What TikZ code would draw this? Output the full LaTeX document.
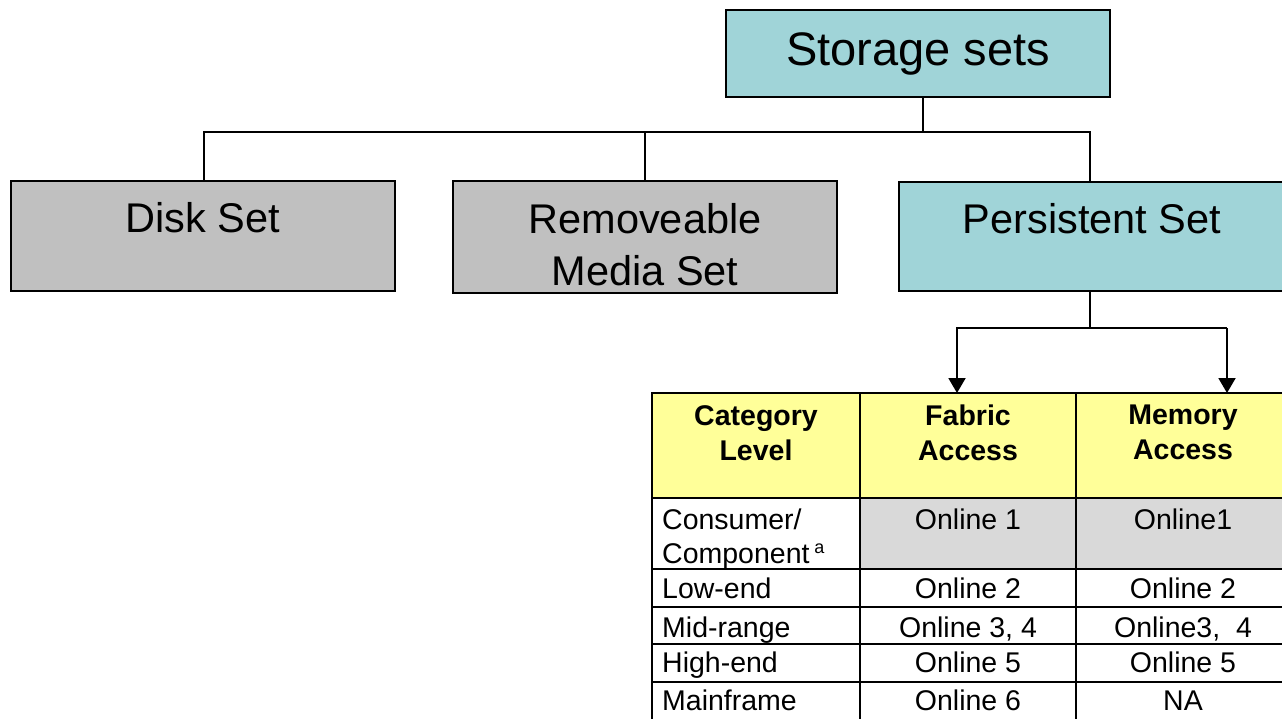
\documentclass[tikz,border=0pt]{standalone}
\usepackage{fontspec}
\setmainfont{Liberation Sans}
\usetikzlibrary{arrows.meta}
\definecolor{setteal}{RGB}{160,212,216}
\definecolor{setgray}{RGB}{192,192,192}
\definecolor{hdryellow}{RGB}{255,255,153}
\definecolor{cellgray}{RGB}{217,217,217}
\begin{document}
\begin{tikzpicture}[x=1pt,y=-1pt,
  setbox/.style={draw=black, line width=1.5pt, inner sep=0pt, outer sep=0pt, anchor=north west},
  bigtext/.style={font=\fontsize{41.5}{52}\selectfont, align=center, inner sep=0pt},
  cellbox/.style={draw=black, line width=2.2pt, inner sep=0pt, outer sep=0pt, anchor=north west},
  hdr/.style={font=\bfseries\fontsize{28.5}{35}\selectfont, align=center, inner sep=0pt},
  tab/.style={font=\fontsize{28.5}{34}\selectfont, inner sep=0pt},
  link/.style={line width=1.3pt},
  alink/.style={line width=2pt},
  arr/.style={line width=2pt, -{Triangle[width=17pt,length=15pt]}}
]
\useasboundingbox (0,0) rectangle (1282,719);
\fill[white] (0,0) rectangle (1282,719);

% top-level boxes
\node[setbox, fill=setteal, minimum width=384pt, minimum height=87pt,
      font=\fontsize{47}{56}\selectfont] (storage) at (726,10) {Storage sets};
\node[setbox, fill=setgray, minimum width=384pt, minimum height=110pt,
      label={[bigtext, anchor=north, yshift=-21pt]north:Disk Set}] (disk) at (11,181) {};
\node[setbox, fill=setgray, minimum width=384pt, minimum height=112pt,
      label={[bigtext, anchor=north, yshift=-22pt]north:Removeable\\Media Set}] (remov) at (453,181) {};
\node[setbox, fill=setteal, minimum width=386pt, minimum height=109pt,
      label={[bigtext, anchor=north, yshift=-21pt]north:Persistent Set}] (persist) at (899,182) {};

% tree connectors
\coordinate (bus) at (923,132);
\coordinate (busL) at (204,132);
\coordinate (busR) at (1090,132);
\draw[link] (bus |- storage.south) -- (bus);
\draw[link] (busL |- disk.north) -- (busL) -- (busR) -- (busR |- persist.north);
\draw[link] (remov.north) -- (remov.north |- busL);

% table header
\node[cellbox, fill=hdryellow, minimum width=208pt, minimum height=105pt,
      label={[hdr, anchor=north, yshift=-12pt]north:Category\\Level}] (hcat) at (652,393) {};
\node[cellbox, fill=hdryellow, minimum width=216pt, minimum height=105pt,
      label={[hdr, anchor=north, yshift=-12pt]north:Fabric\\Access}] (hfab) at (860,393) {};
\node[cellbox, fill=hdryellow, minimum width=214pt, minimum height=105pt,
      label={[hdr, anchor=north, yshift=-12pt]north:Memory\\Access}] (hmem) at (1076,393) {};

% row 1
\node[cellbox, fill=white, minimum width=208pt, minimum height=71pt,
      label={[tab, align=left, anchor=north west, xshift=10pt, yshift=-11pt]north west:Consumer/\\Component\,\raisebox{10pt}{\fontsize{18}{18}\selectfont a}}] (r1a) at (652,498) {};
\node[cellbox, fill=cellgray, minimum width=216pt, minimum height=71pt,
      label={[tab, anchor=north, yshift=-11pt]north:Online 1}] (r1b) at (860,498) {};
\node[cellbox, fill=cellgray, minimum width=214pt, minimum height=71pt,
      label={[tab, anchor=north, yshift=-11pt]north:Online1}] (r1c) at (1076,498) {};

% row 2
\node[cellbox, fill=white, minimum width=208pt, minimum height=38pt,
      label={[tab, anchor=base west, xshift=10pt, yshift=9pt]south west:Low-end}] (r2a) at (652,569) {};
\node[cellbox, fill=white, minimum width=216pt, minimum height=38pt,
      label={[tab, anchor=base, yshift=9pt]south:Online 2}] (r2b) at (860,569) {};
\node[cellbox, fill=white, minimum width=214pt, minimum height=38pt,
      label={[tab, anchor=base, yshift=9pt]south:Online 2}] (r2c) at (1076,569) {};

% row 3
\node[cellbox, fill=white, minimum width=208pt, minimum height=37pt,
      label={[tab, anchor=base west, xshift=10pt, yshift=7pt]south west:Mid-range}] (r3a) at (652,607) {};
\node[cellbox, fill=white, minimum width=216pt, minimum height=37pt,
      label={[tab, anchor=base, yshift=7pt]south:Online 3, 4}] (r3b) at (860,607) {};
\node[cellbox, fill=white, minimum width=214pt, minimum height=37pt,
      label={[tab, anchor=base, yshift=7pt]south:Online3,\ \ 4}] (r3c) at (1076,607) {};

% row 4
\node[cellbox, fill=white, minimum width=208pt, minimum height=38pt,
      label={[tab, anchor=base west, xshift=10pt, yshift=10pt]south west:High-end}] (r4a) at (652,644) {};
\node[cellbox, fill=white, minimum width=216pt, minimum height=38pt,
      label={[tab, anchor=base, yshift=10pt]south:Online 5}] (r4b) at (860,644) {};
\node[cellbox, fill=white, minimum width=214pt, minimum height=38pt,
      label={[tab, anchor=base, yshift=10pt]south:Online 5}] (r4c) at (1076,644) {};

% row 5
\node[cellbox, fill=white, minimum width=208pt, minimum height=39pt,
      label={[tab, anchor=base west, xshift=10pt, yshift=11pt]south west:Mainframe}] (r5a) at (652,682) {};
\node[cellbox, fill=white, minimum width=216pt, minimum height=39pt,
      label={[tab, anchor=base, yshift=11pt]south:Online 6}] (r5b) at (860,682) {};
\node[cellbox, fill=white, minimum width=214pt, minimum height=39pt,
      label={[tab, anchor=base, yshift=11pt]south:NA}] (r5c) at (1076,682) {};

% arrows from Persistent Set to the table
\coordinate (pbranch) at (1090,328);
\coordinate (fabL) at (957,328);
\coordinate (memR) at (1227,328);
\draw[alink] (pbranch |- persist.south) -- (pbranch);
\draw[arr] (memR) -- (fabL) -- (fabL |- hfab.north);
\draw[arr] (memR) -- (memR |- hmem.north);
\end{tikzpicture}
\end{document}
